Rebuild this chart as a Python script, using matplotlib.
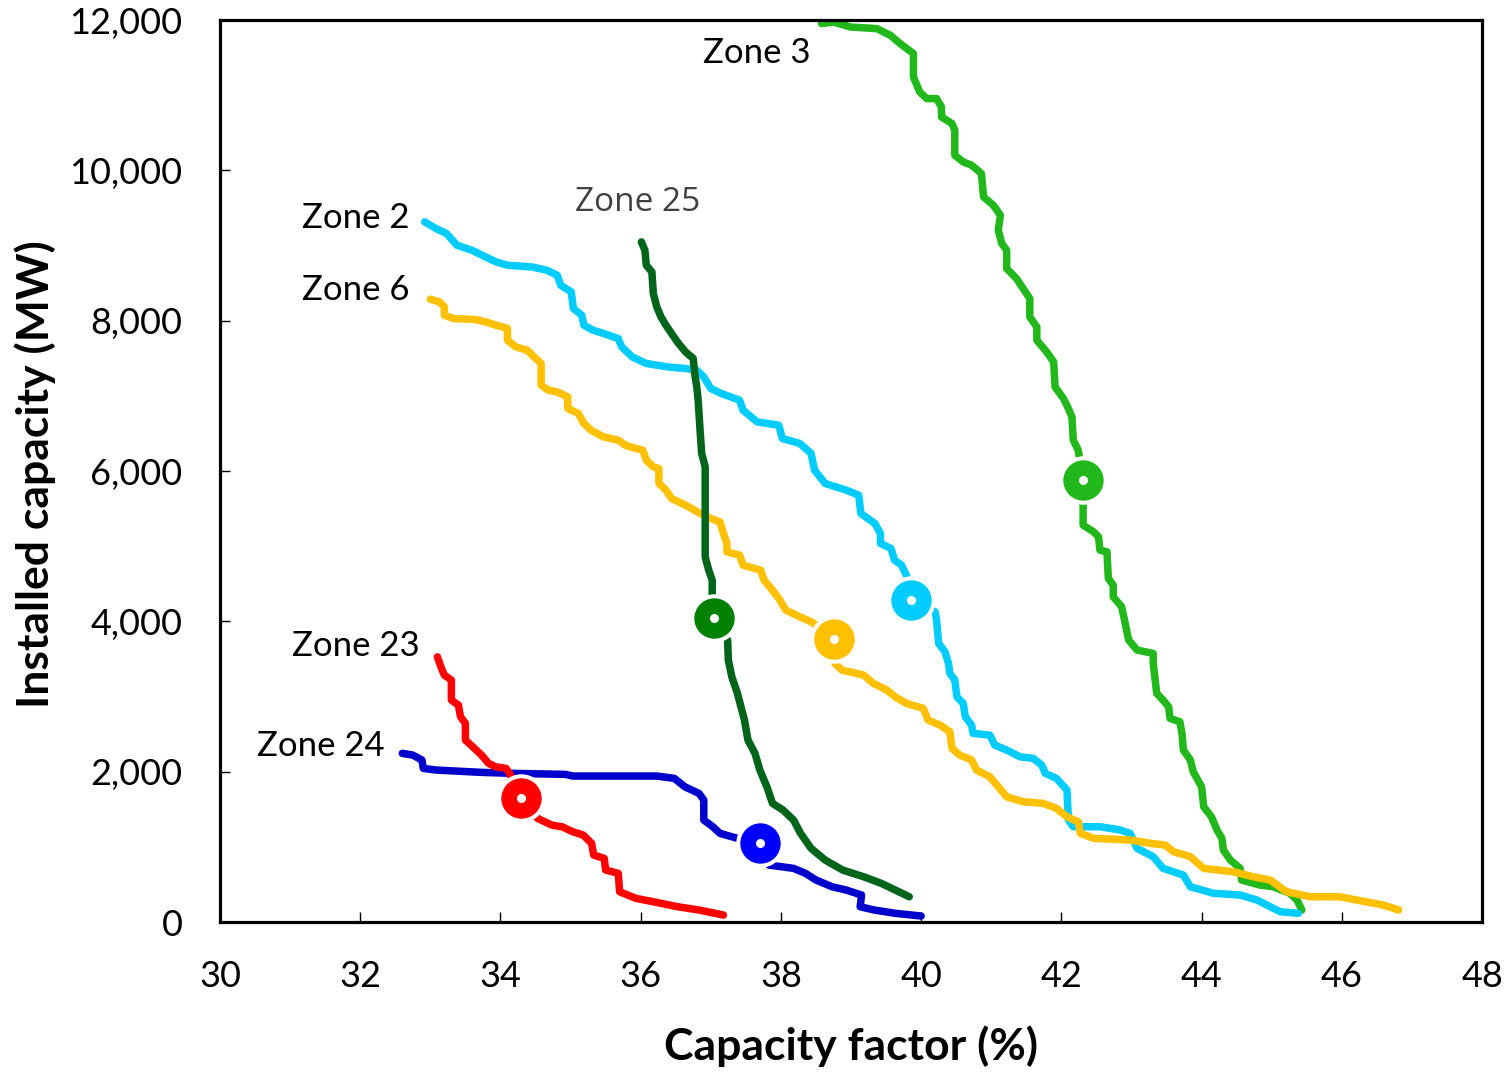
import matplotlib
matplotlib.use("Agg")
import matplotlib.pyplot as plt
from matplotlib.ticker import FuncFormatter

plt.rcParams['font.family'] = ['Lato', 'DejaVu Sans']

# Zone 3
z3_cf = [38.58, 38.75, 38.99, 39.37, 39.56, 39.70, 39.89, 39.89, 39.98, 40.08,
         40.22, 40.29, 40.29, 40.44, 40.48, 40.48, 40.60, 40.72, 40.86, 40.89,
         41.03, 41.13, 41.10, 41.15, 41.22, 41.22, 41.36, 41.55, 41.55, 41.65,
         41.65, 41.79, 41.89, 41.91, 42.03, 42.10, 42.15, 42.17, 42.24, 42.31,
         42.31, 42.31, 42.46, 42.53, 42.55, 42.65, 42.67, 42.74, 42.74, 42.86,
         42.91, 42.96, 43.08, 43.31, 43.31, 43.36, 43.45, 43.53, 43.55, 43.69,
         43.72, 43.74, 43.84, 43.88, 44.00, 44.03, 44.14, 44.22, 44.29, 44.31,
         44.41, 44.55, 44.57, 44.83, 45.02, 45.26, 45.36, 45.43]
z3_mw = [11953, 11974, 11907, 11886, 11797, 11687, 11554, 11242, 11043, 10955,
         10955, 10843, 10710, 10623, 10534, 10201, 10112, 10068, 9958, 9646,
         9536, 9403, 9204, 9027, 8938, 8694, 8561, 8295, 8050, 7917,
         7741, 7585, 7452, 7119, 6965, 6832, 6720, 6411, 6278, 5879,
         5590, 5280, 5191, 5124, 4948, 4925, 4571, 4482, 4326, 4193,
         3973, 3751, 3618, 3574, 3441, 3042, 2953, 2863, 2709, 2664,
         2510, 2288, 2155, 1999, 1799, 1533, 1400, 1224, 1113, 958,
         825, 714, 559, 492, 469, 382, 293, 160]

# Zone 2
z2_cf = [32.92, 33.08, 33.23, 33.38, 33.59, 33.79, 33.94, 34.10, 34.45, 34.66,
         34.81, 34.86, 35.01, 35.04, 35.16, 35.19, 35.32, 35.47, 35.68, 35.73,
         35.88, 36.08, 36.39, 36.64, 36.80, 36.90, 37.00, 37.15, 37.41, 37.46,
         37.66, 37.97, 38.02, 38.27, 38.43, 38.48, 38.63, 38.93, 39.11, 39.14,
         39.34, 39.42, 39.42, 39.57, 39.62, 39.72, 39.80, 39.85, 40.20, 40.22,
         40.25, 40.34, 40.39, 40.41, 40.48, 40.51, 40.60, 40.63, 40.72, 40.74,
         40.98, 41.05, 41.22, 41.41, 41.60, 41.72, 41.77, 41.93, 42.08, 42.10,
         42.17, 42.55, 42.84, 42.98, 43.08, 43.31, 43.45, 43.74, 43.84, 44.17,
         44.55, 44.79, 44.98, 45.12, 45.38]
z2_mw = [9314, 9226, 9160, 9004, 8938, 8848, 8782, 8738, 8715, 8672,
         8605, 8472, 8383, 8162, 8073, 7940, 7874, 7830, 7763, 7651,
         7518, 7431, 7385, 7364, 7342, 7252, 7098, 7032, 6943, 6810,
         6654, 6610, 6433, 6367, 6234, 6012, 5835, 5746, 5679, 5436,
         5303, 5170, 5037, 4970, 4815, 4748, 4592, 4283, 4127, 4017,
         3707, 3595, 3441, 3308, 3219, 2996, 2909, 2731, 2620, 2510,
         2487, 2354, 2288, 2198, 2177, 2088, 1978, 1911, 1756, 1357,
         1268, 1268, 1224, 1180, 980, 869, 714, 625, 469, 382,
         359, 293, 203, 137, 116]

# Zone 6
z6_cf = [33.00, 33.13, 33.20, 33.20, 33.33, 33.64, 33.79, 33.94, 34.10, 34.10,
         34.22, 34.38, 34.48, 34.58, 34.58, 34.68, 34.81, 34.96, 34.96, 35.11,
         35.19, 35.29, 35.47, 35.68, 35.78, 35.93, 36.03, 36.08, 36.18, 36.26,
         36.26, 36.36, 36.44, 36.64, 36.85, 37.00, 37.13, 37.18, 37.23, 37.23,
         37.41, 37.46, 37.71, 37.76, 37.86, 37.97, 38.07, 38.27, 38.44, 38.76,
         38.77, 38.87, 39.18, 39.32, 39.51, 39.63, 39.79, 40.03, 40.10, 40.27,
         40.41, 40.44, 40.55, 40.72, 40.79, 40.98, 41.10, 41.22, 41.46, 41.74,
         41.93, 42.08, 42.24, 42.27, 42.46, 42.98, 43.27, 43.48, 43.60, 43.84,
         44.03, 44.45, 44.74, 44.98, 45.21, 45.55, 45.97, 46.21, 46.59, 46.81]
z6_mw = [8286, 8250, 8183, 8073, 8029, 8016, 7984, 7940, 7896, 7741,
         7651, 7608, 7518, 7431, 7142, 7076, 7053, 6986, 6832, 6766,
         6633, 6544, 6454, 6411, 6344, 6300, 6278, 6145, 6055, 6034,
         5835, 5746, 5635, 5546, 5436, 5369, 5324, 5170, 5037, 4925,
         4881, 4748, 4682, 4549, 4438, 4305, 4150, 4060, 3990, 3771,
         3441, 3352, 3285, 3175, 3086, 2996, 2909, 2842, 2687, 2620,
         2531, 2310, 2221, 2155, 2022, 1932, 1799, 1666, 1600, 1579,
         1512, 1400, 1334, 1180, 1113, 1091, 1047, 1024, 935, 869,
         714, 669, 602, 559, 403, 336, 336, 293, 226, 160]

# Zone 25
z25_cf = [36.01, 36.06, 36.08, 36.16, 36.18, 36.23, 36.29, 36.36, 36.44, 36.54,
          36.64, 36.75, 36.77, 36.80, 36.82, 36.85, 36.87, 36.92, 36.92, 36.97,
          37.02, 37.02, 37.05, 37.24, 37.25, 37.30, 37.38, 37.43, 37.48, 37.53,
          37.63, 37.70, 37.80, 37.88, 38.03, 38.18, 38.28, 38.43, 38.63, 38.88,
          39.18, 39.43, 39.63, 39.83]
z25_mw = [9048, 8938, 8738, 8649, 8362, 8183, 8050, 7940, 7830, 7697,
          7585, 7497, 7298, 7119, 6943, 6500, 6234, 6055, 4858, 4682,
          4549, 4326, 4039, 3751, 3485, 3262, 3042, 2863, 2687, 2421,
          2244, 2022, 1799, 1579, 1490, 1357, 1180, 980, 825, 692,
          602, 515, 426, 336]

# Zone 23
z23_cf = [33.10, 33.15, 33.20, 33.30, 33.30, 33.40, 33.43, 33.50, 33.50, 33.63,
          33.73, 33.83, 33.93, 34.08, 34.13, 34.30, 34.53, 34.73, 34.88, 35.03,
          35.18, 35.30, 35.33, 35.48, 35.50, 35.68, 35.70, 35.93, 36.18, 36.53,
          36.83, 37.18]
z23_mw = [3528, 3395, 3285, 3219, 2953, 2886, 2731, 2643, 2421, 2310,
          2221, 2111, 2065, 2044, 1978, 1645, 1379, 1290, 1267, 1201,
          1157, 1047, 891, 847, 692, 648, 403, 315, 270, 203,
          160, 93]

# Zone 24
z24_cf = [32.60, 32.75, 32.88, 32.90, 33.08, 33.73, 34.18, 34.93, 35.03, 35.83,
          36.23, 36.48, 36.63, 36.83, 36.90, 36.90, 37.03, 37.13, 37.38, 37.70,
          37.83, 38.18, 38.35, 38.50, 38.73, 38.93, 39.15, 39.13, 39.33, 39.63,
          40.00]
z24_mw = [2244, 2221, 2155, 2044, 2022, 1991, 1978, 1964, 1942, 1942,
          1942, 1911, 1799, 1712, 1623, 1357, 1267, 1180, 1113, 1055,
          758, 714, 648, 559, 469, 426, 359, 203, 160, 116,
          80]

zones = ['Zone 3', 'Zone 2', 'Zone 6', 'Zone 25', 'Zone 24', 'Zone 23']
line_colors = ['#22B81C', '#00CCFF', '#FFC000', '#00641A', '#0000CC', '#FF0000']
mark_colors = ['#22B81C', '#00CCFF', '#FFC000', '#008000', '#0000FF', '#FF0000']
series = [(z3_cf, z3_mw), (z2_cf, z2_mw), (z6_cf, z6_mw),
          (z25_cf, z25_mw), (z24_cf, z24_mw), (z23_cf, z23_mw)]

# highlighted point on each curve
mark_cf = [42.31, 39.85, 38.76, 37.05, 37.70, 34.30]
mark_mw = [5879, 4283, 3771, 4039, 1055, 1645]

# zone label positions
label_cf = [37.66, 31.93, 31.94, 35.95, 31.44, 31.94]
label_mw = [11558, 9363, 8406, 9576, 2341, 3671]

fig = plt.figure(figsize=(15.12, 10.72), dpi=100)
ax = fig.add_axes([0.1455, 0.1399, 0.8347, 0.8414])

for (cf, mw), c in zip(series, line_colors):
    ax.plot(cf, mw, color=c, lw=5.4, solid_capstyle='round', solid_joinstyle='round', zorder=2)

for x, y, c in zip(mark_cf, mark_mw, mark_colors):
    ax.plot(x, y, 'o', ms=32, mfc=c, mec='white', mew=2.9, zorder=4)
    ax.plot(x, y, 'o', ms=6.5, mfc='white', mew=0, zorder=5)

for name, x, y in zip(zones, label_cf, label_mw):
    if name == 'Zone 25':
        ax.text(x, y, name, fontsize=24, color='#404040', ha='center', va='center',
                family=['Open Sans', 'DejaVu Sans'])
    else:
        ax.text(x, y, name, fontsize=25, color='black', ha='center', va='center')

ax.set_xlim(30, 48)
ax.set_ylim(0, 12000)
ax.set_xticks(range(30, 49, 2))
ax.set_yticks(range(0, 12001, 2000))
ax.yaxis.set_major_formatter(FuncFormatter(lambda v, p: '{:,.0f}'.format(v)))
ax.tick_params(direction='in', length=7, width=1.0, labelsize=26, pad=27)
for s in ax.spines.values():
    s.set_linewidth(2.3)

fig.text(851 / 1512, 1 - 1046 / 1072, 'Capacity factor (%)', fontsize=32,
         fontweight='bold', ha='center', va='center')
fig.text(35 / 1512, 1 - 474 / 1072, 'Installed capacity (MW)', fontsize=32,
         fontweight='bold', ha='center', va='center', rotation=90)

fig.savefig('out.png', dpi=100)
